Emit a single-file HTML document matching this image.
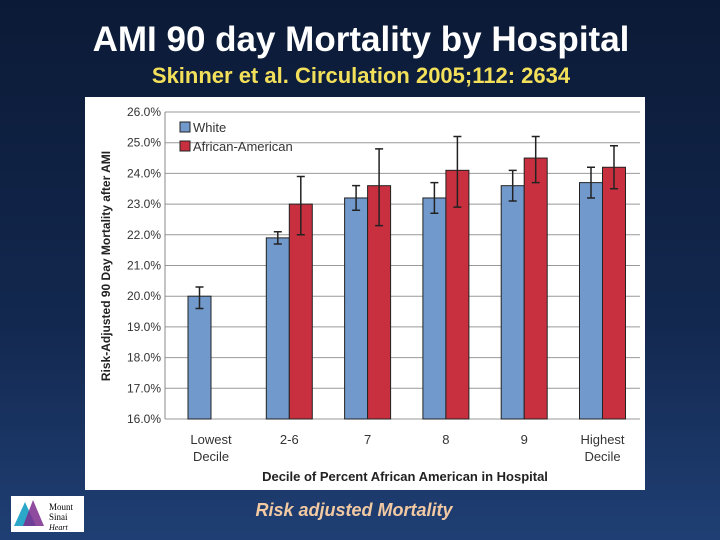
<!DOCTYPE html>
<html><head><meta charset="utf-8"><style>
body{margin:0;width:720px;height:540px;overflow:hidden;background:linear-gradient(180deg,#0b1a36 0%,#13284f 60%,#1f3f74 100%);font-family:"Liberation Sans",sans-serif;position:relative}
#title{position:absolute;top:20px;left:0;width:722px;text-align:center;color:#fff;font-size:35px;font-weight:bold}
#sub{position:absolute;top:63px;left:0;width:722px;text-align:center;color:#f3e05a;font-size:22px;font-weight:bold}
#foot{position:absolute;top:500px;left:0;width:708px;text-align:center;color:#f2c9a2;font-size:18px;font-weight:bold;font-style:italic}
#logo{position:absolute;left:11px;top:496px;width:73px;height:36px;background:#fff}
</style></head><body>
<div id="title">AMI 90 day Mortality by Hospital</div>
<div id="sub">Skinner et al. Circulation 2005;112: 2634</div>
<svg width="720" height="540" style="position:absolute;left:0;top:0" id="chart">
<rect x="85" y="97" width="560" height="393" fill="#fff"/>
<g id="g"></g>
</svg>
<div id="logo"><svg width="73" height="36"><polygon points="3,30 14,6 25,30" fill="#2aa7c9"/><polygon points="12,30 22,4 33,30" fill="#7b2d8e" opacity=".85"/><text x="38" y="14" font-size="9" font-family="Liberation Serif">Mount</text><text x="38" y="24" font-size="9" font-family="Liberation Serif">Sinai</text><text x="38" y="34" font-size="8" font-style="italic" font-family="Liberation Serif">Heart</text></svg></div>
<div id="foot">Risk adjusted Mortality</div>
<script>
const categories=[["Lowest","Decile"],["2-6"],["7"],["8"],["9"],["Highest","Decile"]];
const whiteVals=[20.0,21.9,23.2,23.2,23.6,23.7];
const whiteLo=[19.6,21.7,22.8,22.7,23.1,23.2];
const whiteHi=[20.3,22.1,23.6,23.7,24.1,24.2];
const aaVals=[null,23.0,23.6,24.1,24.5,24.2];
const aaLo=[null,22.0,22.3,22.9,23.7,23.5];
const aaHi=[null,23.9,24.8,25.2,25.2,24.9];
const ticks=[16,17,18,19,20,21,22,23,24,25,26];
const NS="http://www.w3.org/2000/svg",g=document.getElementById('g');
const L=165,R=640,T=112,B=419,ymin=16,ymax=26;
const y=v=>B-(v-ymin)/(ymax-ymin)*(B-T);
const bx=i=>188+i*78.3;
function el(t,a){const e=document.createElementNS(NS,t);for(const k in a)e.setAttribute(k,a[k]);g.appendChild(e);return e;}
ticks.forEach(t=>{
 const l=el('line',{x1:L,x2:R,y1:y(t),y2:y(t),stroke:'#999','stroke-width':1});
 
 
 const tx=el('text',{x:L-4,y:y(t)+4,'text-anchor':'end','font-size':12,fill:'#333'});
 tx.textContent=t.toFixed(1)+'%';
 
 
});
el('line',{x1:L,x2:L,y1:T,y2:B,stroke:'#888'});
function bar(x,v,lo,hi,fill,name){
 const r=el('rect',{x:x,y:y(v),width:23,height:B-y(v),fill:fill,stroke:'#222','stroke-width':1});
 
 
 const cx=x+11.5;
 const e=el('path',{d:`M${cx},${y(lo)}V${y(hi)}M${cx-4},${y(lo)}H${cx+4}M${cx-4},${y(hi)}H${cx+4}`,stroke:'#222','stroke-width':1.5,fill:'none'});
 
 
}
categories.forEach((c,i)=>{
 bar(bx(i),whiteVals[i],whiteLo[i],whiteHi[i],'#7199cc','bar-white');
 if(aaVals[i]!=null)bar(bx(i)+23,aaVals[i],aaLo[i],aaHi[i],'#c9303f','bar-african-american');
 c.forEach((s,j)=>{const t=el('text',{x:bx(i)+23,y:444+j*17,'text-anchor':'middle','font-size':13,fill:'#333'});t.textContent=s;
 
 });
});
const xt=el('text',{x:405,y:481,'text-anchor':'middle','font-size':13,'font-weight':'bold',fill:'#222'});xt.textContent='Decile of Percent African American in Hospital';


const yt=el('text',{x:0,y:0,'text-anchor':'middle','font-size':12,'font-weight':'bold',fill:'#222',transform:'translate(110,266) rotate(-90)'});yt.textContent='Risk-Adjusted 90 Day Mortality after AMI';


[['White','#7199cc'],['African-American','#c9303f']].forEach((s,i)=>{
 const r=el('rect',{x:180,y:122+i*19,width:10,height:10,fill:s[1],stroke:'#222'});
 
 
 const t=el('text',{x:193,y:132+i*19,'font-size':13,fill:'#333'});t.textContent=s[0];
 
 
});
</script>
</body></html>
